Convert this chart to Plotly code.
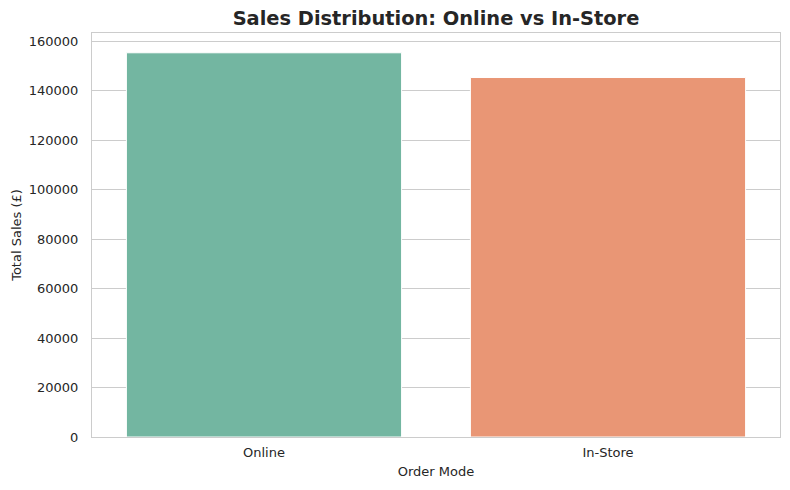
import plotly.graph_objects as go

categories = ["Online", "In-Store"]
sales = [155300, 145300]
colors = ["#73b6a1", "#e99675"]
y_ticks = [0, 20000, 40000, 60000, 80000, 100000, 120000, 140000, 160000]

fig = go.Figure()
fig.add_trace(go.Bar(
    x=categories, y=sales,
    marker=dict(color=colors, line=dict(color="white", width=1)),
    width=0.8,
))

font_family = "DejaVu Sans"
fig.update_layout(
    width=790, height=490,
    margin=dict(l=92, r=10, t=33, b=53),
    paper_bgcolor="white", plot_bgcolor="white",
    showlegend=False,
    font=dict(family=font_family, color="#262626", size=13),
    title=dict(
        text="<b>Sales Distribution: Online vs In-Store</b>",
        x=0.5, xref="paper", xanchor="center",
        y=1 - 18 / 490, yref="container", yanchor="middle",
        font=dict(family=font_family, size=19.4, color="#262626"),
    ),
    xaxis=dict(
        range=[-0.5, 1.5],
        showgrid=False, zeroline=False,
        showline=True, linecolor="#cccccc", linewidth=1, mirror=True,
        ticks="", ticklabelstandoff=3,
        tickfont=dict(size=13, color="#262626"),
        title=dict(text="Order Mode", font=dict(size=13, color="#262626"), standoff=8),
    ),
    yaxis=dict(
        range=[0, 163300],
        tickvals=y_ticks, ticktext=[str(v) for v in y_ticks],
        showgrid=True, gridcolor="#cccccc", gridwidth=1,
        zeroline=False,
        showline=True, linecolor="#cccccc", linewidth=1, mirror=True,
        ticks="", ticklabelstandoff=10,
        tickfont=dict(size=13, color="#262626"),
        title=dict(text="Total Sales (£)", font=dict(size=13, color="#262626"), standoff=4),
    ),
    bargap=0.2,
)

fig.write_html("out.html")
